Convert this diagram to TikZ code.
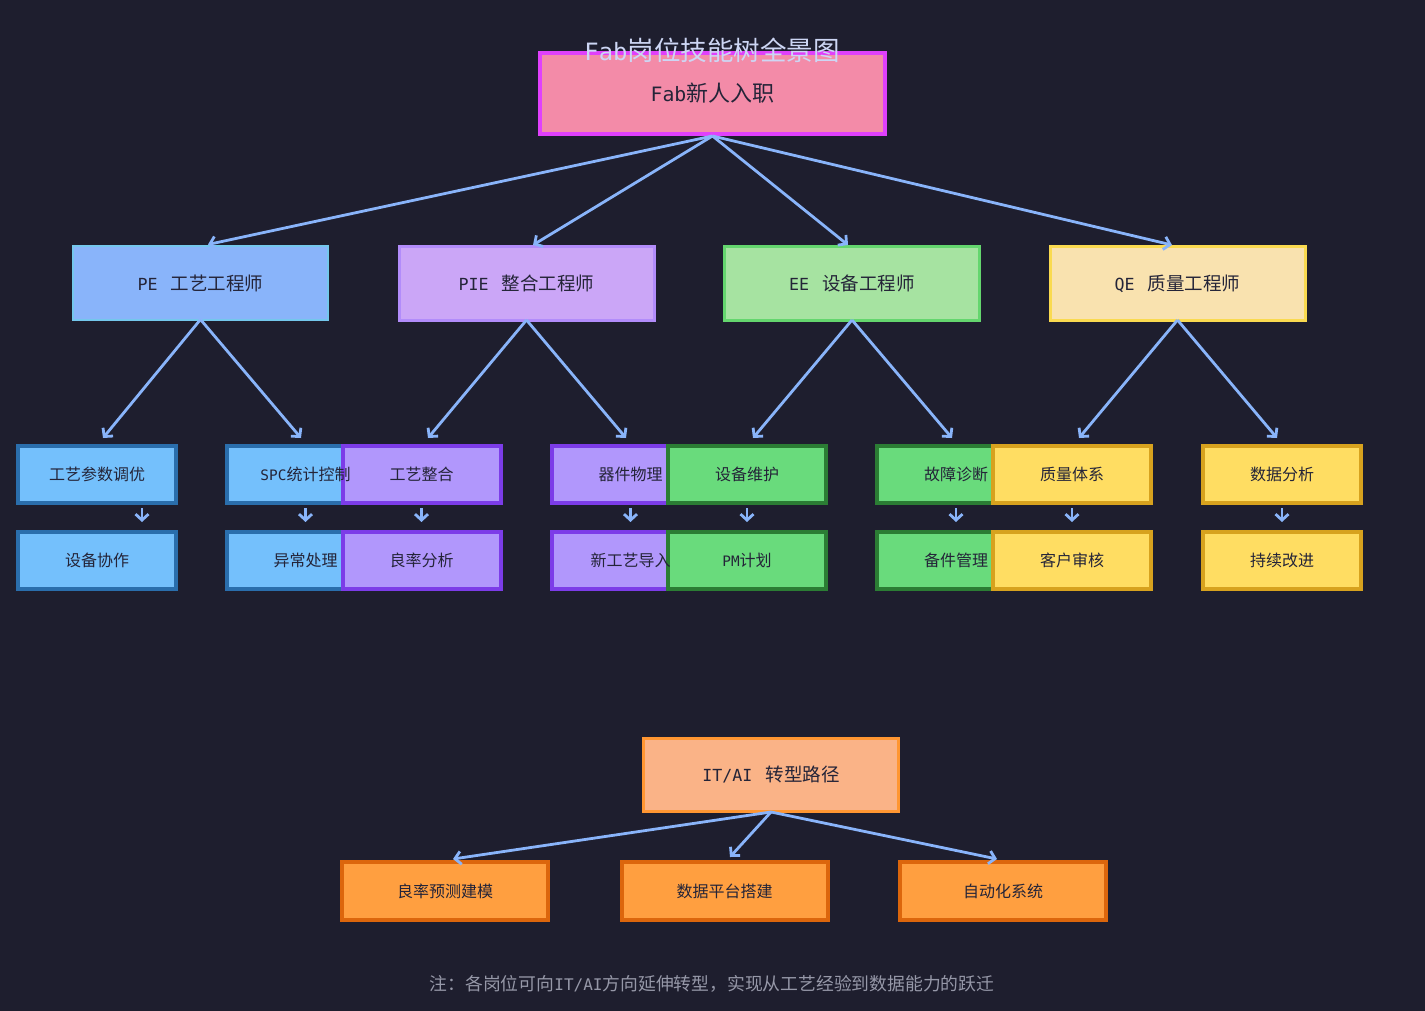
\documentclass[tikz,border=0pt]{standalone}
\usepackage{fontspec}
\setmainfont{Noto Sans CJK SC}
\newfontfamily\lat[Scale=0.9]{DejaVu Sans Mono}
\usetikzlibrary{arrows.meta,backgrounds}
\definecolor{bgc}{RGB}{30,30,46}
\definecolor{titlec}{RGB}{205,214,244}
\definecolor{txt}{RGB}{36,36,56}
\definecolor{footc}{RGB}{150,152,168}
\definecolor{arrowc}{RGB}{137,180,250}
\definecolor{rootfill}{RGB}{243,139,168}
\definecolor{rootline}{RGB}{224,64,251}
\definecolor{pefill}{RGB}{137,180,250}
\definecolor{peline}{RGB}{116,199,236}
\definecolor{piefill}{RGB}{203,166,247}
\definecolor{pieline}{RGB}{178,140,250}
\definecolor{eefill}{RGB}{166,227,161}
\definecolor{eeline}{RGB}{100,214,110}
\definecolor{qefill}{RGB}{249,226,175}
\definecolor{qeline}{RGB}{250,218,80}
\definecolor{itfill}{RGB}{250,179,135}
\definecolor{itline}{RGB}{255,150,50}
\definecolor{lpefill}{RGB}{116,192,252}
\definecolor{lpeline}{RGB}{42,110,172}
\definecolor{lpiefill}{RGB}{177,151,252}
\definecolor{lpieline}{RGB}{124,60,232}
\definecolor{leefill}{RGB}{105,219,124}
\definecolor{leeline}{RGB}{43,125,52}
\definecolor{lqefill}{RGB}{255,221,98}
\definecolor{lqeline}{RGB}{215,162,30}
\definecolor{litfill}{RGB}{255,159,64}
\definecolor{litline}{RGB}{220,102,12}
\begin{document}
\begin{tikzpicture}[x=1pt,y=-1pt,
  every node/.style={inner sep=0pt,outer sep=0pt,text=txt},
  rootsz/.style={minimum width=345pt,minimum height=81pt,font=\fontsize{22}{26}\selectfont},
  midsz/.style={minimum width=255pt,minimum height=73pt,font=\fontsize{18.5}{22}\selectfont},
  leafsz/.style={minimum width=158pt,minimum height=57pt,font=\fontsize{16}{19}\selectfont},
  botsz/.style={minimum width=206pt,minimum height=58pt,font=\fontsize{16}{19}\selectfont},
  link/.style={draw=arrowc,line width=2.8pt,-{Straight Barb[length=6pt,width=13pt]}},
  rootbox/.style={fill=rootfill,draw=rootline,line width=4pt},
  pebox/.style={fill=pefill,draw=peline,line width=2pt},
  piebox/.style={fill=piefill,draw=pieline,line width=3pt},
  eebox/.style={fill=eefill,draw=eeline,line width=3pt},
  qebox/.style={fill=qefill,draw=qeline,line width=3pt},
  itbox/.style={fill=itfill,draw=itline,line width=3pt},
  lpebox/.style={fill=lpefill,draw=lpeline,line width=4pt},
  lpiebox/.style={fill=lpiefill,draw=lpieline,line width=4pt},
  leebox/.style={fill=leefill,draw=leeline,line width=4pt},
  lqebox/.style={fill=lqefill,draw=lqeline,line width=4pt},
  litbox/.style={fill=litfill,draw=litline,line width=4pt},
]
\useasboundingbox (0,0) rectangle (1425,1011);
% nodes (text)
\node[rootsz] (root) at (712.5,93.5) {{\lat Fab}新人入职};
\node[font=\fontsize{26.5}{30}\selectfont,text=titlec] (title) at (712,50) {{\lat Fab}岗位技能树全景图};
\node[midsz] (pe) at (200.5,283) {{\lat PE\ }\,工艺工程师};
\node[midsz] (pie) at (526.5,283.5) {{\lat PIE\ }\,整合工程师};
\node[midsz] (ee) at (852,283.5) {{\lat EE\ }\,设备工程师};
\node[midsz] (qe) at (1177.5,283.5) {{\lat QE\ }\,质量工程师};
\node[leafsz] (a1) at (97,474.5) {工艺参数调优};
\node[leafsz] (a2) at (97,560.5) {设备协作};
\node[leafsz] (b1) at (305.5,474.5) {{\lat SPC}统计控制};
\node[leafsz] (b2) at (305.5,560.5) {异常处理};
\node[leafsz] (c1) at (421.5,474.5) {工艺整合};
\node[leafsz] (c2) at (421.5,560.5) {良率分析};
\node[leafsz] (d1) at (630.5,474.5) {器件物理};
\node[leafsz] (d2) at (630.5,560.5) {新工艺导入};
\node[leafsz] (e1) at (747,474.5) {设备维护};
\node[leafsz] (e2) at (747,560.5) {{\lat PM}计划};
\node[leafsz] (f1) at (956,474.5) {故障诊断};
\node[leafsz] (f2) at (956,560.5) {备件管理};
\node[leafsz] (g1) at (1072,474.5) {质量体系};
\node[leafsz] (g2) at (1072,560.5) {客户审核};
\node[leafsz] (h1) at (1282,474.5) {数据分析};
\node[leafsz] (h2) at (1282,560.5) {持续改进};
\node[midsz] (it) at (771,774.5) {{\lat IT/AI\ }\,转型路径};
\node[botsz] (k1) at (445,891) {良率预测建模};
\node[botsz] (k2) at (724.5,891) {数据平台搭建};
\node[botsz] (k3) at (1003,891) {自动化系统};
\node[font=\fontsize{17.8}{21}\selectfont,text=footc] (foot) at (712,984) {注：各岗位可向{\lat IT/AI}方向延伸转型，实现从工艺经验到数据能力的跃迁};
% boxes
\begin{pgfonlayer}{background}
\fill[bgc] (0,0) rectangle (1425,1011);
\path[rootbox] (root.north west) rectangle (root.south east);
\path[pebox] (pe.north west) rectangle (pe.south east);
\path[piebox] (pie.north west) rectangle (pie.south east);
\path[eebox] (ee.north west) rectangle (ee.south east);
\path[qebox] (qe.north west) rectangle (qe.south east);
\foreach \n in {a1,a2,b1,b2} {\path[lpebox] (\n.north west) rectangle (\n.south east);}
\foreach \n in {c1,c2,d1,d2} {\path[lpiebox] (\n.north west) rectangle (\n.south east);}
\foreach \n in {e1,e2,f1,f2} {\path[leebox] (\n.north west) rectangle (\n.south east);}
\foreach \n in {g1,g2,h1,h2} {\path[lqebox] (\n.north west) rectangle (\n.south east);}
\path[itbox] (it.north west) rectangle (it.south east);
\foreach \n in {k1,k2,k3} {\path[litbox] (\n.north west) rectangle (\n.south east);}
\end{pgfonlayer}
% connectors
\draw[link] ([yshift=-2pt]root.south) -- ([xshift=7.5pt,yshift=2pt]pe.north);
\draw[link] ([yshift=-2pt]root.south) -- ([xshift=6.5pt,yshift=2pt]pie.north);
\draw[link] ([yshift=-2pt]root.south) -- ([xshift=-4pt,yshift=2pt]ee.north);
\draw[link] ([yshift=-2pt]root.south) -- ([xshift=-5.5pt,yshift=2pt]qe.north);
\draw[link] (pe.south) -- ([xshift=6pt,yshift=8pt]a1.north);
\draw[link] (pe.south) -- ([xshift=-4.5pt,yshift=8pt]b1.north);
\draw[link] (pie.south) -- ([xshift=6.5pt,yshift=8pt]c1.north);
\draw[link] (pie.south) -- ([xshift=-4.5pt,yshift=8pt]d1.north);
\draw[link] (ee.south) -- ([xshift=6pt,yshift=8pt]e1.north);
\draw[link] (ee.south) -- ([xshift=-4pt,yshift=8pt]f1.north);
\draw[link] (qe.south) -- ([xshift=7pt,yshift=8pt]g1.north);
\draw[link] (qe.south) -- ([xshift=-5pt,yshift=8pt]h1.north);
\draw[link] ([xshift=45pt,yshift=-5pt]a1.south) -- ([xshift=45pt,yshift=10pt]a2.north);
\foreach \u/\v in {b1/b2,c1/c2,d1/d2,e1/e2,f1/f2,g1/g2,h1/h2}
  \draw[link] ([yshift=-5pt]\u.south) -- ([yshift=10pt]\v.north);
\draw[link] ([yshift=-1pt]it.south) -- ([xshift=8pt,yshift=3pt]k1.north);
\draw[link] ([yshift=-1pt]it.south) -- ([xshift=5.5pt,yshift=5pt]k2.north);
\draw[link] ([yshift=-1pt]it.south) -- ([xshift=-6pt,yshift=3pt]k3.north);
\end{tikzpicture}
\end{document}
